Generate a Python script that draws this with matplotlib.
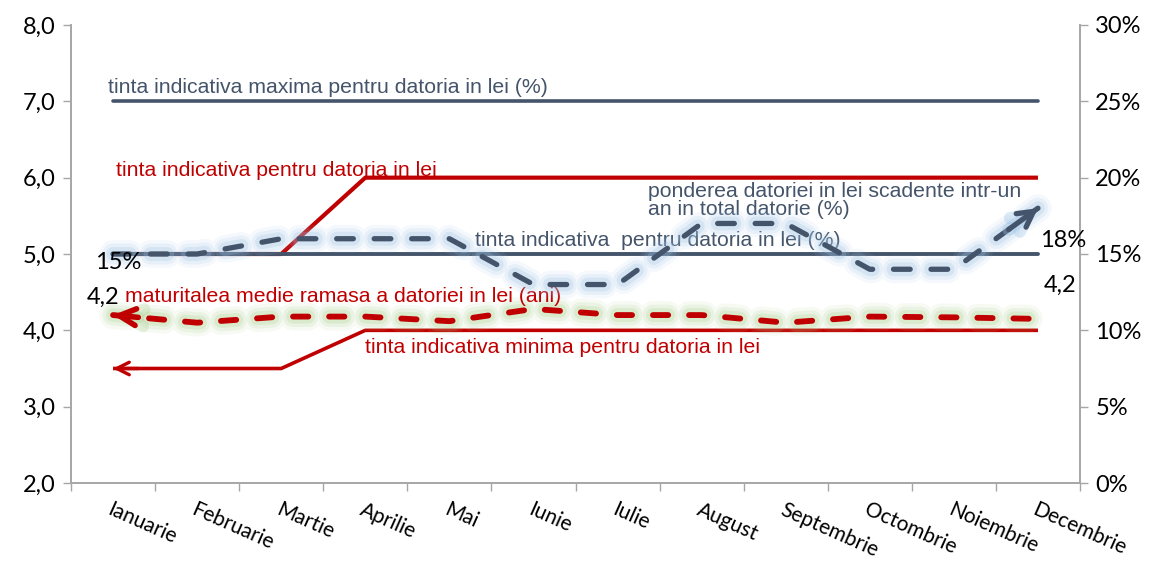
import numpy as np
import matplotlib
matplotlib.use("Agg")
import matplotlib.pyplot as plt
from matplotlib.ticker import FuncFormatter, FixedLocator

plt.rcParams["lines.scale_dashes"] = False

# ---- data -------------------------------------------------------------
months = ["Ianuarie", "Februarie", "Martie", "Aprilie", "Mai", "Iunie",
          "Iulie", "August", "Septembrie", "Octombrie", "Noiembrie", "Decembrie"]

tinta_max = [7.0, 7.0, 7.0, 7.0, 7.0, 7.0, 7.0, 7.0, 7.0, 7.0, 7.0, 7.0]
tinta_lei = [5.0, 5.0, 5.0, 6.0, 6.0, 6.0, 6.0, 6.0, 6.0, 6.0, 6.0, 6.0]
tinta_min = [3.5, 3.5, 3.5, 4.0, 4.0, 4.0, 4.0, 4.0, 4.0, 4.0, 4.0, 4.0]
maturitate = [4.2, 4.1, 4.18, 4.18, 4.12, 4.28, 4.2, 4.2, 4.1, 4.18, 4.17, 4.15]

# right axis (%)
tinta_pct = [15, 15, 15, 15, 15, 15, 15, 15, 15, 15, 15, 15]
ponderea = [15, 15, 16, 16, 16, 13, 13, 17, 17, 14, 14, 18]

# ---- style ------------------------------------------------------------
slate = "#44546A"
red = "#C00000"
blue_glow = "#9DC3E6"
green_glow = "#A9D18E"
spine_c = "#A6A6A6"
tick_font = "Lato"
ann_font = "Liberation Sans"

x = np.arange(len(months))

fig = plt.figure(figsize=(11.54, 5.63), dpi=100)
ax = fig.add_axes([71 / 1154, 1 - 483 / 563, (1080 - 71) / 1154, (483 - 25) / 563])
ax2 = ax.twinx()

ax.set_xlim(-0.5, len(months) - 0.5)
ax.set_ylim(2, 8)
ax2.set_ylim(0, 30)


def glow(axis, xs, ys, color, dashes):
    for lw, a in [(20, 0.10), (15, 0.15), (10, 0.25)]:
        axis.plot(xs, ys, color=color, lw=lw, alpha=a, dashes=dashes,
                  dash_capstyle="round", solid_capstyle="round")


def arrow_head(axis, tip, back, color, lw, hl, hw, alpha=1.0):
    axis.annotate("", xy=tip, xytext=back,
                  arrowprops=dict(arrowstyle=f"->,head_length={hl},head_width={hw}",
                                  color=color, lw=lw, shrinkA=0, shrinkB=0,
                                  alpha=alpha, capstyle="round", joinstyle="round"))


# left-axis series
ax.plot(x, tinta_lei, color=red, lw=3.0, solid_capstyle="butt")
ax.plot(x, tinta_max, color=slate, lw=2.6, solid_capstyle="round")
ax.plot(x, tinta_min, color=red, lw=2.6, solid_capstyle="butt")
arrow_head(ax, (x[0], tinta_min[0]), (x[0] + 0.3, tinta_min[0]), red, 2.4, 0.9, 0.45)

dash_m = (11, 15)
glow(ax, x, maturitate, green_glow, dash_m)
ax.plot(x, maturitate, color=red, lw=4.2, dashes=dash_m, dash_capstyle="round")
m_back = (x[0] + 0.3, maturitate[0] - 0.3 * (maturitate[0] - maturitate[1]))
arrow_head(ax, (x[0], maturitate[0]), m_back, green_glow, 9, 1.2, 0.6, alpha=0.3)
arrow_head(ax, (x[0], maturitate[0]), m_back, red, 4.0, 1.2, 0.6)

# right-axis series
ax2.plot(x, tinta_pct, color=slate, lw=2.8, solid_capstyle="round")
dash_p = (12, 15)
glow(ax2, x, ponderea, blue_glow, dash_p)
ax2.plot(x, ponderea, color=slate, lw=3.8, dashes=dash_p, dash_capstyle="round")
tip = (x[-1], ponderea[-1])
back = (x[-1] - 0.35, ponderea[-1] - 0.35 * (ponderea[-1] - ponderea[-2]))
arrow_head(ax2, tip, back, blue_glow, 9, 1.1, 0.6, alpha=0.35)
arrow_head(ax2, tip, back, slate, 3.8, 1.1, 0.6)

# ---- series captions ----------------------------------------------------
fs = 15.3
ax.text(-0.06, 7.175, "tinta indicativa maxima pentru datoria in lei (%)",
        color=slate, fontsize=fs, family=ann_font, va="center", ha="left")
ax.text(0.036, 6.10, "tinta indicativa pentru datoria in lei",
        color=red, fontsize=fs, family=ann_font, va="center", ha="left")
ax.text(6.36, 5.70, "ponderea datoriei in lei scadente intr-un\nan in total datorie (%)",
        color=slate, fontsize=fs, family=ann_font, va="center", ha="left",
        linespacing=0.95)
ax.text(4.305, 5.18, "tinta indicativa  pentru datoria in lei (%)",
        color=slate, fontsize=fs, family=ann_font, va="center", ha="left")
ax.text(0.143, 4.437, "maturitalea medie ramasa a datoriei in lei (ani)",
        color=red, fontsize=fs, family=ann_font, va="center", ha="left")
ax.text(3.0, 3.77, "tinta indicativa minima pentru datoria in lei",
        color=red, fontsize=fs, family=ann_font, va="center", ha="left")

# ---- data labels ------------------------------------------------------
lab_fs = 17
ax2.annotate(f"{ponderea[0]}%", (x[0], ponderea[0]), xytext=(4, -6),
             textcoords="offset points", ha="center", va="center",
             fontsize=lab_fs, family=tick_font, color="black")
ax2.annotate(f"{ponderea[-1]}%", (x[-1], ponderea[-1]), xytext=(18, -23),
             textcoords="offset points", ha="center", va="center",
             fontsize=lab_fs, family=tick_font, color="black")
ax.annotate(f"{maturitate[0]:.1f}".replace(".", ","), (x[0], maturitate[0]),
            xytext=(-7, 13), textcoords="offset points", ha="center", va="center",
            fontsize=lab_fs, family=tick_font, color="black")
ax.annotate(f"{maturitate[-1]:.1f}".replace(".", ","), (x[-1], maturitate[-1]),
            xytext=(16, 24), textcoords="offset points", ha="center", va="center",
            fontsize=lab_fs, family=tick_font, color="black")

# ---- axes -------------------------------------------------------------
ax.xaxis.set_major_locator(FixedLocator(np.arange(-0.5, len(months), 1)))
ax.xaxis.set_major_formatter(FuncFormatter(lambda v, p: ""))
ax.set_xticks(x, minor=True)
ax.set_xticklabels(months, minor=True, rotation=-24, ha="left", va="top",
                   rotation_mode="anchor", fontsize=15, family=tick_font)
ax.tick_params(axis="x", which="minor", length=0, pad=12)
ax.tick_params(axis="x", which="major", length=6, color=spine_c, width=1)

ax.set_yticks(np.arange(2, 8.01, 1))
ax.yaxis.set_major_formatter(FuncFormatter(lambda v, p: f"{v:.1f}".replace(".", ",")))
ax2.set_yticks(np.arange(0, 30.1, 5))
ax2.yaxis.set_major_formatter(FuncFormatter(lambda v, p: f"{int(v)}%"))
for a in (ax, ax2):
    a.tick_params(axis="y", length=6, color=spine_c, width=1, labelsize=17, pad=5)
    for lab in a.get_yticklabels():
        lab.set_family(tick_font)
    for s in a.spines.values():
        s.set_color(spine_c)
        s.set_linewidth(1.2)
    a.spines["top"].set_visible(False)

fig.savefig("out.png", dpi=100)
